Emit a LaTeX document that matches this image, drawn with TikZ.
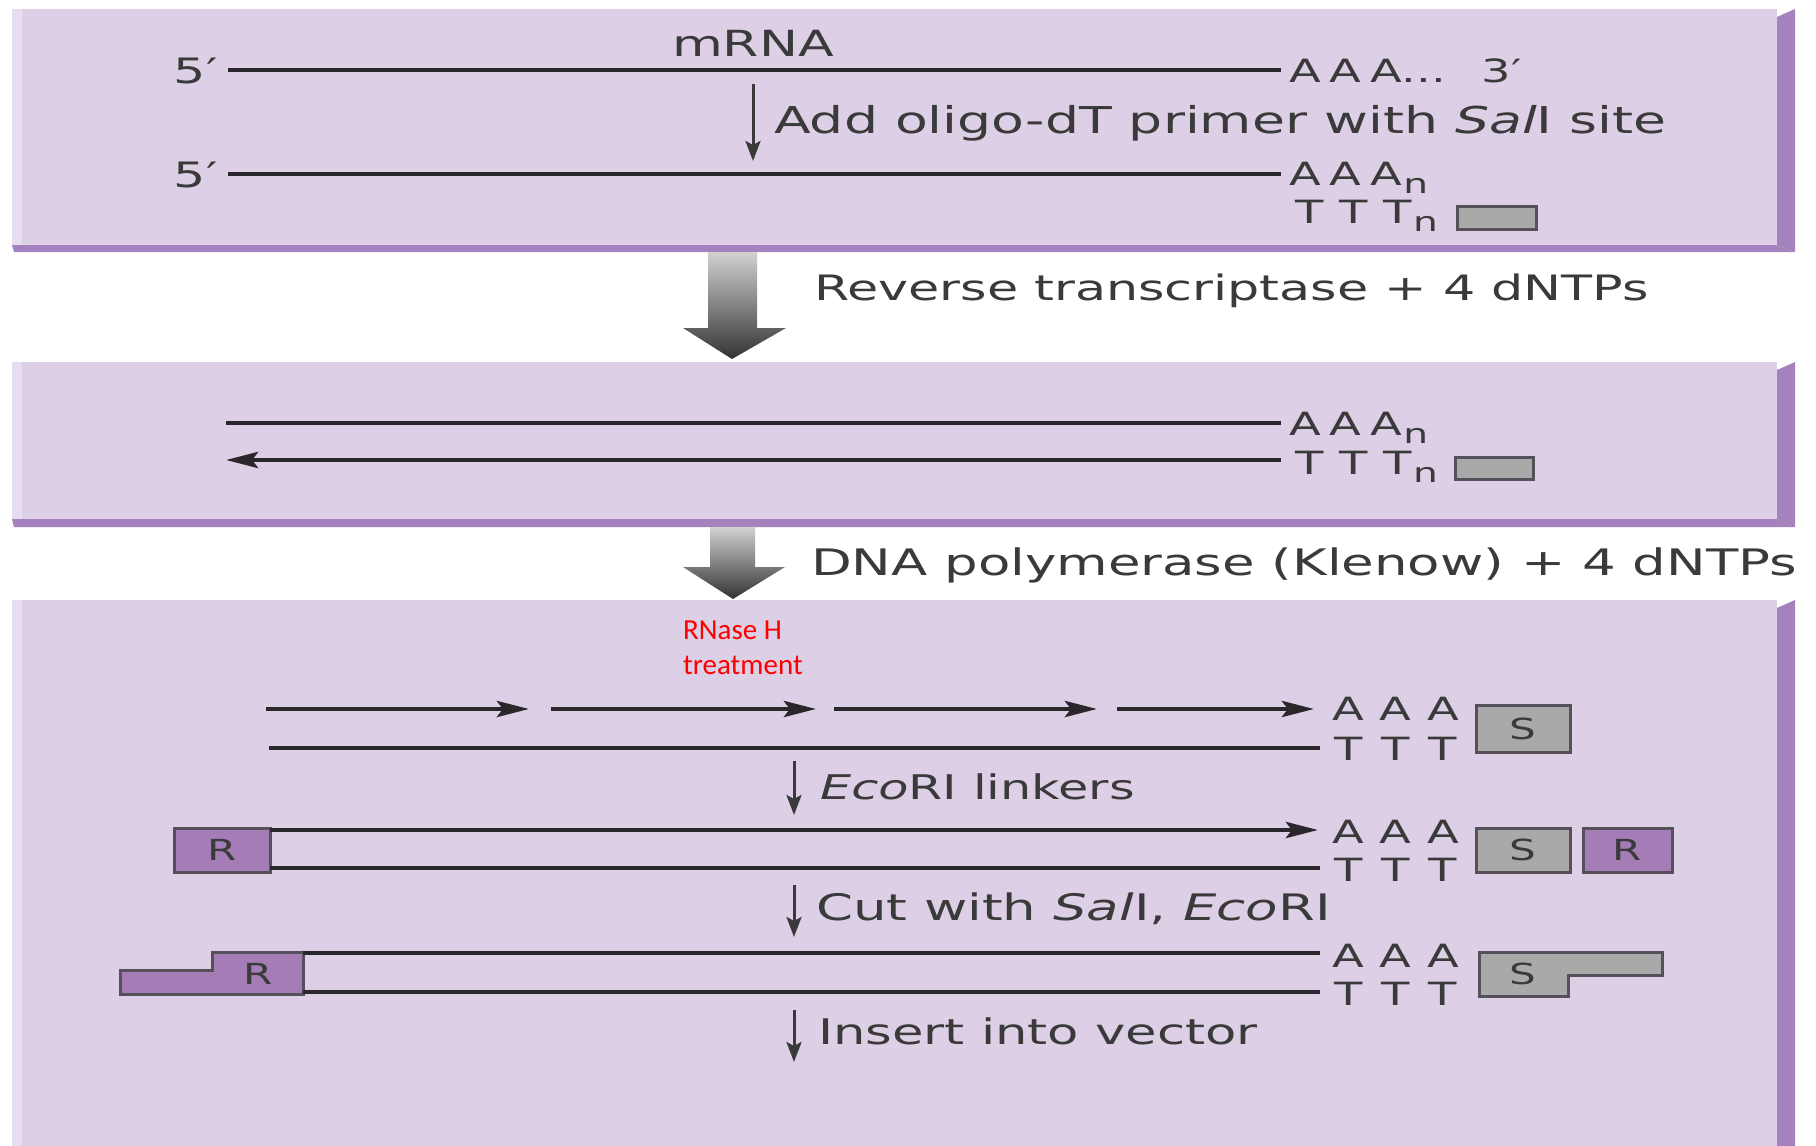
\documentclass[tikz,border=0pt]{standalone}
\usepackage{fontspec}
\setmainfont{DejaVu Sans}[FakeStretch=1.45]
\newfontfamily\calib{Carlito}
\usetikzlibrary{arrows.meta}
\definecolor{panelfill}{HTML}{DCCFE6}
\definecolor{panelband}{HTML}{A582BE}
\definecolor{paneledge}{HTML}{E6DDEE}
\definecolor{txt}{HTML}{3A3A3A}
\definecolor{strand}{HTML}{2A272C}
\definecolor{sbox}{HTML}{A9A9A9}
\definecolor{rbox}{HTML}{A47CB6}
\definecolor{boxedge}{HTML}{55505A}
\newcommand\subn{\raisebox{-0.28em}{\fontsize{27}{27}\selectfont n}}
\tikzset{
  lbl/.style={font=\fontsize{35}{40}\selectfont, text=txt, inner sep=0pt},
  nuc/.style={font=\fontsize{32}{36}\selectfont, text=txt, inner sep=0pt},
  boxlbl/.style={font=\fontsize{29}{32}\selectfont, text=txt, inner sep=0pt},
  strandline/.style={line width=4.6pt, draw=strand},
  strandarrow/.style={strandline, -{Stealth[length=32pt,width=16pt,inset=6pt]}},
  smallarrow/.style={line width=3pt, draw=txt, -{Stealth[length=20pt,width=15pt,inset=4pt]}},
  sboxst/.style={fill=sbox, draw=boxedge, line width=3pt, inner sep=0pt, text=txt, font=\fontsize{29}{32}\selectfont},
  rboxst/.style={fill=rbox, draw=boxedge, line width=3pt, inner sep=0pt, text=txt, font=\fontsize{29}{32}\selectfont},
  blockarrow/.style={top color=black!18, bottom color=black!80}
}
\begin{document}
\begin{tikzpicture}[x=1pt,y=-1pt]
\useasboundingbox (0,0) rectangle (1816,1146);
\fill[white] (0,0) rectangle (1816,1146);

% ---------- panels ----------
% panel 1
\fill[panelfill] (12,9) rectangle (1777,247);
\fill[paneledge] (12,9) rectangle (22,247);
\fill[panelband] (12,245) -- (1777,245) -- (1795,252) -- (14,252) -- cycle;
\fill[panelband] (1777,17) -- (1795,9) -- (1795,252) -- (1777,245) -- cycle;
% panel 2
\fill[panelfill] (12,362) rectangle (1777,521);
\fill[paneledge] (12,362) rectangle (22,521);
\fill[panelband] (12,519) -- (1777,519) -- (1795,527) -- (14,527) -- cycle;
\fill[panelband] (1777,370) -- (1795,362) -- (1795,527) -- (1777,519) -- cycle;
% panel 3
\fill[panelfill] (12,600) rectangle (1777,1146);
\fill[paneledge] (12,600) rectangle (22,1146);
\fill[panelband] (1777,608) -- (1795,600) -- (1795,1146) -- (1777,1146) -- cycle;

% ---------- block arrows ----------
\shade[blockarrow] (708,252) -- (757,252) -- (757,328) -- (786,328) -- (732,359) -- (683,328) -- (708,328) -- cycle;
\shade[blockarrow] (710,527) -- (755,527) -- (755,567) -- (785,567) -- (733,599) -- (683,567) -- (710,567) -- cycle;
\node[lbl, anchor=base west] (rt) at (814,300) {Reverse transcriptase + 4 dNTPs};
\node[lbl, anchor=base west, font=\fontsize{36.5}{40}\selectfont] (klenow) at (811,575) {DNA polymerase (Klenow) + 4 dNTPs};

% ---------- panel 1 content ----------
\node[lbl, anchor=base, font=\fontsize{36}{40}\selectfont] (mrna) at (753,56) {mRNA};
\node[lbl, anchor=base east] (fiveA) at (218,83) {5′};
\node[lbl, anchor=base east] (fiveB) at (218,187) {5′};
\coordinate (m1s) at (228,70); \coordinate (m1e) at (1281,70);
\coordinate (m2s) at (228,174); \coordinate (m2e) at (1281,174);
\draw[strandline] (m1s) -- (m1e);
\draw[strandline] (m2s) -- (m2e);
\node[nuc, anchor=base west] (polyA1) at (1289,82) {A\hspace{9pt}A\hspace{9pt}A...\hspace{36pt}3′};
\node[nuc, anchor=base west] (polyA2) at (1289,185) {A\hspace{9pt}A\hspace{9pt}A\hspace{1pt}\subn};
\node[nuc, anchor=base west] (polyT1) at (1295,223) {T\hspace{16pt}T\hspace{16pt}T\hspace{1pt}\subn};
\node[sboxst, minimum width=79pt, minimum height=23pt] (g1) at (1496.5,217.5) {};
\coordinate (a1s) at (753,84); \coordinate (a1e) at (753,161);
\draw[smallarrow] (a1s) -- (a1e);
\node[lbl, anchor=base west, font=\fontsize{37}{40}\selectfont] (oligo) at (774,133) {Add oligo-dT primer with \textit{Sal}I site};

% ---------- panel 2 content ----------
\coordinate (r1s) at (226,423); \coordinate (r1e) at (1281,423);
\coordinate (r2s) at (1281,460); \coordinate (r2e) at (226,460);
\draw[strandline] (r1s) -- (r1e);
\draw[strandarrow] (r2s) -- (r2e);
\node[nuc, anchor=base west] (polyA3) at (1289,435) {A\hspace{9pt}A\hspace{9pt}A\hspace{1pt}\subn};
\node[nuc, anchor=base west] (polyT2) at (1295,474) {T\hspace{16pt}T\hspace{16pt}T\hspace{1pt}\subn};
\node[sboxst, minimum width=78pt, minimum height=22pt] (g2) at (1494,468) {};

% ---------- panel 3 content ----------
\node[anchor=base west, inner sep=0pt, text=red, font=\calib\fontsize{29}{34}\selectfont] (rnase) at (683,639) {RNase H};
\node[anchor=base west, inner sep=0pt, text=red, font=\calib\fontsize{29}{34}\selectfont] (treat) at (683,674) {treatment};

% row 1
\coordinate (f1s) at (266,709); \coordinate (f1e) at (529,709);
\coordinate (f2s) at (551,709); \coordinate (f2e) at (816,709);
\coordinate (f3s) at (834,709); \coordinate (f3e) at (1097,709);
\coordinate (f4s) at (1117,709); \coordinate (f4e) at (1314,709);
\draw[strandarrow] (f1s) -- (f1e);
\draw[strandarrow] (f2s) -- (f2e);
\draw[strandarrow] (f3s) -- (f3e);
\draw[strandarrow] (f4s) -- (f4e);
\coordinate (b1s) at (269,748); \coordinate (b1e) at (1320,748);
\draw[strandline] (b1s) -- (b1e);
\node[nuc, anchor=base west] (a31) at (1332,720) {A\hspace{16pt}A\hspace{16pt}A};
\node[nuc, anchor=base west] (t31) at (1334,760) {T\hspace{19pt}T\hspace{19pt}T};
\node[sboxst, minimum width=94pt, minimum height=47pt] (s1) at (1523,728.5) {S};

\coordinate (e1s) at (794,761); \coordinate (e1e) at (794,815);
\draw[smallarrow] (e1s) -- (e1e);
\node[lbl, anchor=base west, font=\fontsize{34}{40}\selectfont] (eco) at (820,799) {\textit{Eco}RI linkers};

% row 2
\node[rboxst, minimum width=96pt, minimum height=44pt] (rL) at (222,850) {R};
\coordinate (t2s) at (270,830); \coordinate (t2e) at (1318,830);
\coordinate (b2s) at (270,868); \coordinate (b2e) at (1320,868);
\draw[strandarrow] (t2s) -- (t2e);
\draw[strandline] (b2s) -- (b2e);
\node[nuc, anchor=base west] (a32) at (1332,843) {A\hspace{16pt}A\hspace{16pt}A};
\node[nuc, anchor=base west] (t32) at (1334,881) {T\hspace{19pt}T\hspace{19pt}T};
\node[sboxst, minimum width=94pt, minimum height=44pt] (s2) at (1523,850) {S};
\node[rboxst, minimum width=89pt, minimum height=44pt] (rR) at (1627.5,850) {R};

\coordinate (c1s) at (794,885); \coordinate (c1e) at (794,937);
\draw[smallarrow] (c1s) -- (c1e);
\node[lbl, anchor=base west, font=\fontsize{36.5}{40}\selectfont] (cut) at (816,920) {Cut with \textit{Sal}I, \textit{Eco}RI};

% row 3
\draw[rboxst] (120,994) -- (120,970) -- (212,970) -- (212,952) -- (303,952) -- (303,994) -- cycle;
\node[boxlbl] (rS) at (258,974) {R};
\draw[sboxst] (1479,952) -- (1662,952) -- (1662,975) -- (1568,975) -- (1568,996) -- (1479,996) -- cycle;
\node[boxlbl] (sS) at (1523,974) {S};
\coordinate (t3s) at (303,953); \coordinate (t3e) at (1320,953);
\coordinate (b3s) at (303,992); \coordinate (b3e) at (1320,992);
\draw[strandline] (t3s) -- (t3e);
\draw[strandline] (b3s) -- (b3e);
\node[nuc, anchor=base west] (a33) at (1332,967) {A\hspace{16pt}A\hspace{16pt}A};
\node[nuc, anchor=base west] (t33) at (1334,1005) {T\hspace{19pt}T\hspace{19pt}T};

\coordinate (i1s) at (794,1010); \coordinate (i1e) at (794,1062);
\draw[smallarrow] (i1s) -- (i1e);
\node[lbl, anchor=base west, font=\fontsize{35.3}{40}\selectfont] (ins) at (818,1044) {Insert into vector};
\end{tikzpicture}
\end{document}
